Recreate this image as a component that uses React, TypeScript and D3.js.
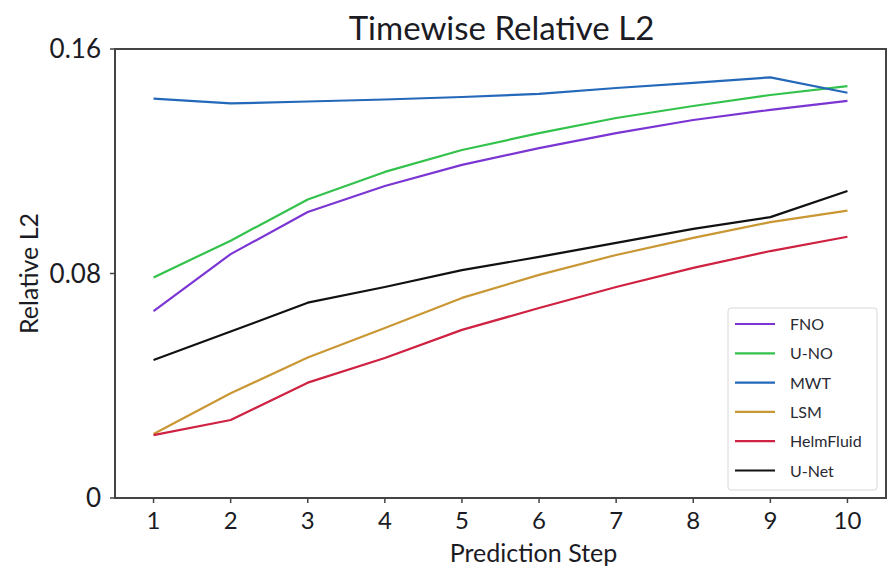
import React from "react";
import * as d3 from "d3";

const steps = [1, 2, 3, 4, 5, 6, 7, 8, 9, 10];
const modelNames = ["FNO", "U-NO", "MWT", "LSM", "HelmFluid", "U-Net"];
const modelColors = ["#7b35d3", "#33c24c", "#2368b9", "#c99734", "#cf2142", "#111111"];

const fnoValues = [0.0666, 0.0869, 0.1019, 0.1112, 0.1187, 0.1247, 0.1300, 0.1347, 0.1383, 0.1415];
const unoValues = [0.0786, 0.0917, 0.1064, 0.1162, 0.1240, 0.1300, 0.1354, 0.1397, 0.1436, 0.1468];
const mwtValues = [0.1423, 0.1406, 0.1413, 0.1420, 0.1429, 0.1440, 0.1461, 0.1479, 0.1499, 0.1444];
const lsmValues = [0.0228, 0.0373, 0.0501, 0.0606, 0.0713, 0.0795, 0.0866, 0.0927, 0.0983, 0.1024];
const helmValues = [0.0224, 0.0278, 0.0411, 0.0499, 0.0599, 0.0677, 0.0752, 0.0820, 0.0880, 0.0931];
const unetValues = [0.0492, 0.0593, 0.0696, 0.0752, 0.0812, 0.0859, 0.0909, 0.0959, 0.1001, 0.1094];

const seriesValues = [fnoValues, unoValues, mwtValues, lsmValues, helmValues, unetValues];
const yTicks = [0, 0.08, 0.16];
const yTickLabels = ["0", "0.08", "0.16"];

const W = 887;
const H = 567;
const FONT = "Lato, 'Noto Sans', sans-serif";

export default function App() {
  const left = 115;
  const right = 886;
  const top = 49;
  const bottom = 498;

  const x = d3.scaleLinear().domain([0.5, 10.5]).range([left, right]);
  const y = d3.scaleLinear().domain([0, 0.16]).range([bottom, top]);

  const line = d3
    .line<number>()
    .x((_, i) => x(steps[i]))
    .y((v) => y(v));

  const legendX = 728;
  const legendY = 308;
  const legendRow = 29.3;

  return (
    <svg
      width={W}
      height={H}
      style={{ position: "absolute", left: 0, top: 0, background: "#fff" }}
      fontFamily={FONT}
    >
      <rect x={0} y={0} width={W} height={H} fill="#fff" />

      {/* title */}
      <text x={(left + right) / 2 + 1} y={40} textAnchor="middle" fontSize={33} fill="#1b1b24">
        Timewise Relative L2
      </text>

      {/* series */}
      {seriesValues.map((vals, i) => (
        <path
          key={modelNames[i]}
          d={line(vals) || ""}
          fill="none"
          stroke={modelColors[i]}
          strokeWidth={2.2}
          strokeLinejoin="round"
        />
      ))}

      {/* frame */}
      <rect
        x={left}
        y={top}
        width={right - left}
        height={bottom - top}
        fill="none"
        stroke="#444"
        strokeWidth={2}
      />

      {/* x axis ticks */}
      {steps.map((s) => (
        <g key={s}>
          <line x1={x(s)} x2={x(s)} y1={bottom} y2={bottom + 5} stroke="#444" strokeWidth={1.5} />
          <text x={x(s)} y={529} textAnchor="middle" fontSize={24} fill="#1b1b24">
            {s}
          </text>
        </g>
      ))}

      {/* y axis ticks */}
      {yTicks.map((t, i) => (
        <g key={t}>
          <line x1={left - 5} x2={left} y1={y(t)} y2={y(t)} stroke="#444" strokeWidth={1.5} />
          <text x={left - 14} y={y(t) + 9} textAnchor="end" fontSize={26} fill="#1b1b24">
            {yTickLabels[i]}
          </text>
        </g>
      ))}

      {/* axis labels */}
      <text x={(left + right) / 2 + 33} y={562} textAnchor="middle" fontSize={25} fill="#1b1b24">
        Prediction Step
      </text>
      <text
        transform={`translate(38, ${(top + bottom) / 2}) rotate(-90)`}
        textAnchor="middle"
        fontSize={25}
        fill="#1b1b24"
      >
        Relative L2
      </text>

      {/* legend */}
      <rect
        x={legendX}
        y={legendY}
        width={149}
        height={182}
        rx={3}
        fill="#fff"
        fillOpacity={0.9}
        stroke="#d8d8d8"
        strokeWidth={1}
      />
      {modelNames.map((name, i) => {
        const cy = legendY + 16 + i * legendRow;
        return (
          <g key={name}>
            <line x1={735} x2={775} y1={cy} y2={cy} stroke={modelColors[i]} strokeWidth={2.2} />
            <text x={790} y={cy + 6} fontSize={16} fill="#2a2a33">
              {name}
            </text>
          </g>
        );
      })}
    </svg>
  );
}
